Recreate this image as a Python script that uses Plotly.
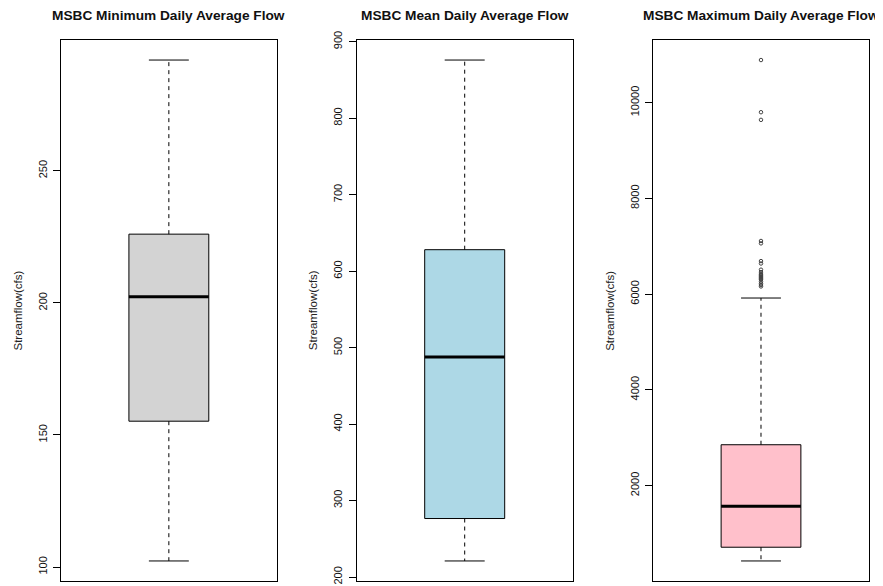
import plotly.graph_objects as go

# ---- data ----
titles = ["MSBC Minimum Daily Average Flow",
          "MSBC Mean Daily Average Flow",
          "MSBC Maximum Daily Average Flow"]
ylabel = "Streamflow(cfs)"
lower_whisker = [102.3, 221.0, 425.0]
q1 = [155.2, 276.5, 712.0]
median = [202.3, 487.8, 1570.0]
q3 = [226.0, 628.0, 2853.0]
upper_whisker = [291.9, 876.0, 5918.0]
outliers_min = []
outliers_mean = []
outliers_max = [10890, 9800, 9640, 7110, 7060, 6690, 6640, 6510, 6460, 6420,
                6400, 6380, 6360, 6340, 6320, 6300, 6260, 6220, 6190, 6160]
outliers = [outliers_min, outliers_mean, outliers_max]
fill_colors = ["#D3D3D3", "#ADD8E6", "#FFC0CB"]
yticks_min = [100, 150, 200, 250]
yticks_mean = [200, 300, 400, 500, 600, 700, 800, 900]
yticks_max = [0, 2000, 4000, 6000, 8000, 10000]
yticks = [yticks_min, yticks_mean, yticks_max]

# ---- layout geometry (pixels in the browser window) ----
OFF = 8  # default body margin of the html page
W, H = 883 - OFF, 586 - OFF
panel_left = [61.0, 356.7, 653.3]
panel_right = [276.7, 572.7, 868.7]
plot_top, plot_bottom = 40.0, 581.0
FONT = "Liberation Sans, Arial, sans-serif"

box_half = 0.2
cap_half = 0.1
center = 1.0


def fx(px):
    return (px - OFF) / W


def fy(py):
    return (H - (py - OFF)) / H


fig = go.Figure()
layout = dict(width=W, height=H, margin=dict(l=0, r=0, t=0, b=0, pad=0),
              paper_bgcolor="white", plot_bgcolor="white",
              showlegend=False, annotations=[], template="none")

for i in range(3):
    sfx = "" if i == 0 else str(i + 1)
    xa, ya = "x" + sfx, "y" + sfx
    lo, a, m, b, hi = lower_whisker[i], q1[i], median[i], q3[i], upper_whisker[i]
    # box body
    fig.add_trace(go.Scatter(
        x=[center - box_half, center + box_half, center + box_half, center - box_half, center - box_half],
        y=[a, a, b, b, a], mode="lines", fill="toself", fillcolor=fill_colors[i],
        line=dict(color="black", width=1), xaxis=xa, yaxis=ya, hoverinfo="skip"))
    # whiskers (dashed)
    for y0, y1 in [(b, hi), (a, lo)]:
        fig.add_trace(go.Scatter(x=[center, center], y=[y0, y1], mode="lines",
                                 line=dict(color="black", width=1, dash="4px,4px"),
                                 xaxis=xa, yaxis=ya, hoverinfo="skip"))
    # caps
    for yv in [hi, lo]:
        fig.add_trace(go.Scatter(x=[center - cap_half, center + cap_half], y=[yv, yv],
                                 mode="lines", line=dict(color="black", width=1),
                                 xaxis=xa, yaxis=ya, hoverinfo="skip"))
    # median
    fig.add_trace(go.Scatter(x=[center - box_half, center + box_half], y=[m, m],
                             mode="lines", line=dict(color="black", width=3),
                             xaxis=xa, yaxis=ya, hoverinfo="skip"))
    # outliers
    if outliers[i]:
        fig.add_trace(go.Scatter(x=[center] * len(outliers[i]), y=outliers[i], mode="markers",
                                 marker=dict(symbol="circle-open", size=3.5, color="#444",
                                             line=dict(width=1, color="#444")),
                                 xaxis=xa, yaxis=ya, hoverinfo="skip"))

    allv = [lo, hi] + outliers[i]
    vmin, vmax = min(allv), max(allv)
    ext = 0.04 * (vmax - vmin)
    xd = [fx(panel_left[i]), fx(panel_right[i])]
    yd = [fy(plot_bottom), fy(plot_top)]
    layout["xaxis" + sfx] = dict(domain=xd, range=[0.46, 1.54], anchor=ya, automargin=False,
                                 showticklabels=False, ticks="", showgrid=False,
                                 zeroline=False, showline=True, mirror=True,
                                 linecolor="black", linewidth=1, fixedrange=True)
    layout["yaxis" + sfx] = dict(domain=yd, range=[vmin - ext, vmax + ext], anchor=xa,
                                 automargin=False,
                                 tickvals=yticks[i], ticktext=[str(t) for t in yticks[i]],
                                 ticks="outside", ticklen=7, tickwidth=1, tickcolor="black",
                                 tickangle=-90, tickfont=dict(family=FONT, size=11, color="#111"),
                                 ticklabelstandoff=2,
                                 showgrid=False, zeroline=False, showline=True, mirror=True,
                                 linecolor="black", linewidth=1, fixedrange=True)
    cx = (panel_left[i] + panel_right[i]) / 2
    layout["annotations"].append(dict(
        text="<b>" + titles[i] + "</b>", x=fx(cx), y=fy(15.5), xref="paper", yref="paper",
        xanchor="center", yanchor="middle", showarrow=False,
        font=dict(family=FONT, size=13.7, color="#111")))
    layout["annotations"].append(dict(
        text=ylabel, x=fx(panel_left[i] - 44), y=fy((plot_top + plot_bottom) / 2),
        xref="paper", yref="paper", xanchor="center", yanchor="middle", textangle=-90,
        showarrow=False, font=dict(family=FONT, size=11.5, color="#222")))

fig.update_layout(**layout)
fig.write_html("out.html")
